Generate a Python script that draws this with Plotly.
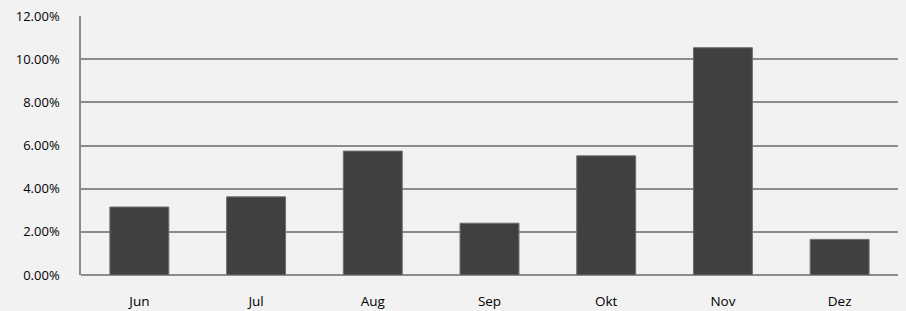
import plotly.graph_objects as go

months = ["Jun", "Jul", "Aug", "Sep", "Okt", "Nov", "Dez"]
values = [0.0315, 0.0362, 0.0574, 0.0240, 0.0552, 0.1053, 0.0165]
y_ticks = [0.0, 0.02, 0.04, 0.06, 0.08, 0.10, 0.12]

fig = go.Figure(go.Bar(
    x=months, y=values,
    marker=dict(color="#404040", line=dict(color="#6e6e6e", width=1)),
    width=0.505,
))

fig.update_layout(
    width=906, height=311,
    margin=dict(l=81, r=8, t=16, b=36, autoexpand=False),
    paper_bgcolor="#F2F2F2", plot_bgcolor="#F2F2F2",
    font=dict(family="Open Sans, sans-serif", size=13, color="#000000"),
    showlegend=False,
)
fig.update_xaxes(showgrid=False, showline=False, ticks="", ticklabelstandoff=16,
                 tickfont=dict(size=13.5))
fig.update_yaxes(
    range=[0, 0.12], tickvals=y_ticks, tickformat=".2%",
    showgrid=True, gridcolor="#8c8c8c", gridwidth=1.5,
    showline=True, linecolor="#8c8c8c", linewidth=1.5,
    zeroline=True, zerolinecolor="#8c8c8c", zerolinewidth=1.5,
    ticks="", ticklabelstandoff=17, tickfont=dict(size=13),
)

fig.write_html(
    "out.html",
    config={"displayModeBar": False},
    post_script="document.body.style.margin='0';document.body.style.background='#F2F2F2';",
)
